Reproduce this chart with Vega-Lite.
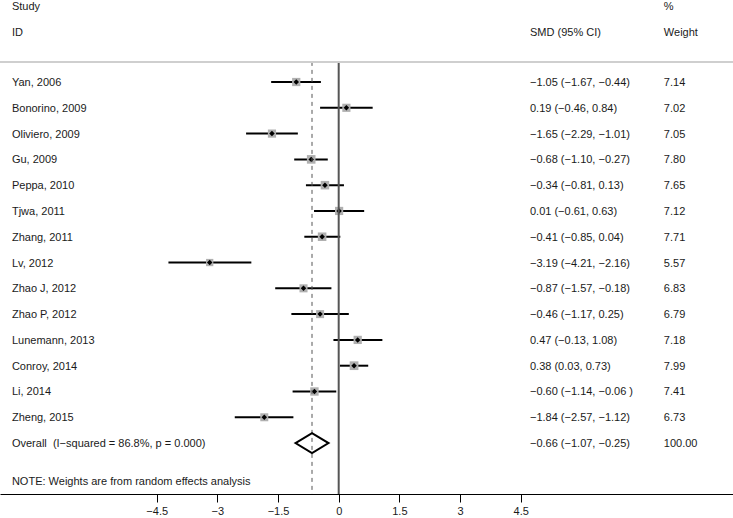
{
  "$schema": "https://vega.github.io/schema/vega-lite/v6.json",
  "width": 733,
  "height": 494,
  "autosize": {"type": "none"},
  "padding": {"left": 0, "top": 0, "right": 0, "bottom": 24},
  "background": "white",
  "config": {
    "view": {"stroke": null},
    "text": {"font": "Liberation Sans", "fontSize": 11, "color": "#1a1a1a", "baseline": "middle", "align": "left", "dy": 1}
  },
  "datasets": {
    "studies": [
      {"row": 1, "kind": "study", "label": "Yan, 2006", "smd": -1.05, "lo": -1.67, "hi": -0.44, "weight": 7.14, "ci": "−1.05 (−1.67, −0.44)", "wt": "7.14"},
      {"row": 2, "kind": "study", "label": "Bonorino, 2009", "smd": 0.19, "lo": -0.46, "hi": 0.84, "weight": 7.02, "ci": "0.19 (−0.46, 0.84)", "wt": "7.02"},
      {"row": 3, "kind": "study", "label": "Oliviero, 2009", "smd": -1.65, "lo": -2.29, "hi": -1.01, "weight": 7.05, "ci": "−1.65 (−2.29, −1.01)", "wt": "7.05"},
      {"row": 4, "kind": "study", "label": "Gu, 2009", "smd": -0.68, "lo": -1.10, "hi": -0.27, "weight": 7.80, "ci": "−0.68 (−1.10, −0.27)", "wt": "7.80"},
      {"row": 5, "kind": "study", "label": "Peppa, 2010", "smd": -0.34, "lo": -0.81, "hi": 0.13, "weight": 7.65, "ci": "−0.34 (−0.81, 0.13)", "wt": "7.65"},
      {"row": 6, "kind": "study", "label": "Tjwa, 2011", "smd": 0.01, "lo": -0.61, "hi": 0.63, "weight": 7.12, "ci": "0.01 (−0.61, 0.63)", "wt": "7.12"},
      {"row": 7, "kind": "study", "label": "Zhang, 2011", "smd": -0.41, "lo": -0.85, "hi": 0.04, "weight": 7.71, "ci": "−0.41 (−0.85, 0.04)", "wt": "7.71"},
      {"row": 8, "kind": "study", "label": "Lv, 2012", "smd": -3.19, "lo": -4.21, "hi": -2.16, "weight": 5.57, "ci": "−3.19 (−4.21, −2.16)", "wt": "5.57"},
      {"row": 9, "kind": "study", "label": "Zhao J, 2012", "smd": -0.87, "lo": -1.57, "hi": -0.18, "weight": 6.83, "ci": "−0.87 (−1.57, −0.18)", "wt": "6.83"},
      {"row": 10, "kind": "study", "label": "Zhao P, 2012", "smd": -0.46, "lo": -1.17, "hi": 0.25, "weight": 6.79, "ci": "−0.46 (−1.17, 0.25)", "wt": "6.79"},
      {"row": 11, "kind": "study", "label": "Lunemann, 2013", "smd": 0.47, "lo": -0.13, "hi": 1.08, "weight": 7.18, "ci": "0.47 (−0.13, 1.08)", "wt": "7.18"},
      {"row": 12, "kind": "study", "label": "Conroy, 2014", "smd": 0.38, "lo": 0.03, "hi": 0.73, "weight": 7.99, "ci": "0.38 (0.03, 0.73)", "wt": "7.99"},
      {"row": 13, "kind": "study", "label": "Li, 2014", "smd": -0.60, "lo": -1.14, "hi": -0.06, "weight": 7.41, "ci": "−0.60 (−1.14, −0.06 )", "wt": "7.41"},
      {"row": 14, "kind": "study", "label": "Zheng, 2015", "smd": -1.84, "lo": -2.57, "hi": -1.12, "weight": 6.73, "ci": "−1.84 (−2.57, −1.12)", "wt": "6.73"},
      {"row": 15, "kind": "overall", "label": "Overall\u00a0\u00a0(I−squared = 86.8%, p = 0.000)", "smd": -0.66, "lo": -1.07, "hi": -0.25, "weight": 100, "ci": "−0.66 (−1.07, −0.25)", "wt": "100.00"}
    ]
  },
  "data": {"name": "studies"},
  "layer": [
    {
      "transform": [{"filter": "datum.kind === 'study'"}],
      "mark": {"type": "rule", "color": "black", "strokeWidth": 2},
      "encoding": {
        "x": {"field": "lo", "type": "quantitative", "title": null,
              "scale": {"domain": [-8.375, 9.75], "nice": false, "zero": false},
              "axis": {"values": [-4.5, -3, -1.5, 0, 1.5, 3, 4.5], "format": ".1~f", "grid": false, "domainColor": "black", "domainWidth": 1,
                       "tickColor": "black", "tickSize": 8, "tickWidth": 1, "labelFont": "Liberation Sans", "labelFontSize": 11,
                       "labelColor": "#1a1a1a", "labelPadding": 3, "labelFlush": false, "labelOverlap": false}},
        "x2": {"field": "hi"},
        "y": {"field": "row", "type": "quantitative", "scale": {"domain": [-2.18, 16.975], "reverse": true, "nice": false, "zero": false}, "axis": null}
      }
    },
    {
      "transform": [{"filter": "datum.kind === 'study'"}],
      "mark": {"type": "point", "shape": "square", "filled": true, "color": "#b0b0b0", "opacity": 1},
      "encoding": {
        "x": {"field": "smd", "type": "quantitative", "title": null},
        "y": {"field": "row", "type": "quantitative"},
        "size": {"field": "weight", "type": "quantitative", "scale": {"type": "linear", "domain": [0, 10], "range": [0, 95]}, "legend": null}
      }
    },
    {
      "transform": [{"filter": "datum.kind === 'study'"}],
      "mark": {"type": "point", "shape": "diamond", "filled": true, "color": "black", "opacity": 1, "size": 30},
      "encoding": {
        "x": {"field": "smd", "type": "quantitative", "title": null},
        "y": {"field": "row", "type": "quantitative"}
      }
    },
    {
      "transform": [{"filter": "datum.kind === 'overall'"}],
      "mark": {"type": "rule", "color": "#555555", "strokeWidth": 1, "strokeDash": [4, 4]},
      "encoding": {
        "x": {"field": "smd", "type": "quantitative", "title": null},
        "y": {"datum": 0.22},
        "y2": {"datum": 16.975}
      }
    },
    {
      "transform": [{"filter": "datum.kind === 'overall'"}],
      "mark": {"type": "rule", "color": "#555555", "strokeWidth": 2},
      "encoding": {
        "x": {"datum": 0},
        "y": {"datum": 0.22},
        "y2": {"datum": 16.975}
      }
    },
    {
      "transform": [{"filter": "datum.kind === 'overall'"}],
      "mark": {"type": "point", "shape": "M-1,0L0,-0.606L1,0L0,0.606Z", "filled": false, "fill": null, "stroke": "black", "strokeWidth": 2, "opacity": 1, "size": 1089},
      "encoding": {
        "x": {"field": "smd", "type": "quantitative", "title": null},
        "y": {"field": "row", "type": "quantitative"}
      }
    },
    {
      "transform": [{"filter": "datum.kind === 'overall'"}],
      "mark": {"type": "rule", "color": "#cfcfcf", "strokeWidth": 2},
      "encoding": {"y": {"datum": 0.22}}
    },
    {
      "mark": {"type": "text"},
      "encoding": {
        "x": {"datum": -8.08},
        "y": {"field": "row", "type": "quantitative"},
        "text": {"field": "label"}
      }
    },
    {
      "mark": {"type": "text"},
      "encoding": {
        "x": {"datum": 4.73},
        "y": {"field": "row", "type": "quantitative"},
        "text": {"field": "ci"}
      }
    },
    {
      "mark": {"type": "text"},
      "encoding": {
        "x": {"datum": 8.04},
        "y": {"field": "row", "type": "quantitative"},
        "text": {"field": "wt"}
      }
    },
    {
      "data": {"values": [{"t": "Study"}]},
      "mark": {"type": "text"},
      "encoding": {"x": {"datum": -8.08}, "y": {"datum": -1.95}, "text": {"field": "t"}}
    },
    {
      "data": {"values": [{"t": "ID"}]},
      "mark": {"type": "text"},
      "encoding": {"x": {"datum": -8.08}, "y": {"datum": -0.94}, "text": {"field": "t"}}
    },
    {
      "data": {"values": [{"t": "SMD (95% CI)"}]},
      "mark": {"type": "text"},
      "encoding": {"x": {"datum": 4.73}, "y": {"datum": -0.94}, "text": {"field": "t"}}
    },
    {
      "data": {"values": [{"t": "%"}]},
      "mark": {"type": "text"},
      "encoding": {"x": {"datum": 8.04}, "y": {"datum": -1.95}, "text": {"field": "t"}}
    },
    {
      "data": {"values": [{"t": "Weight"}]},
      "mark": {"type": "text"},
      "encoding": {"x": {"datum": 8.04}, "y": {"datum": -0.94}, "text": {"field": "t"}}
    },
    {
      "data": {"values": [{"t": "NOTE: Weights are from random effects analysis"}]},
      "mark": {"type": "text"},
      "encoding": {"x": {"datum": -8.08}, "y": {"datum": 16.47}, "text": {"field": "t"}}
    }
  ]
}
